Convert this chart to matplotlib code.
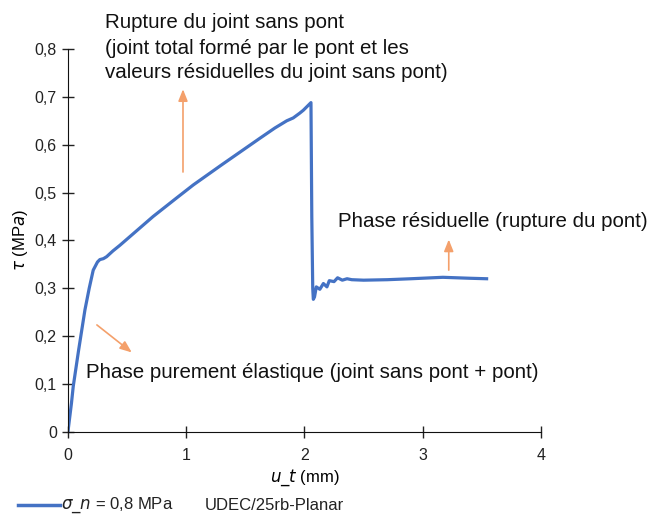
import numpy as np
import matplotlib
matplotlib.use("Agg")
from matplotlib import pyplot as plt

# shear displacement u_t (mm) and shear stress tau (MPa)
u_t = [0.0, 0.03, 0.045, 0.09, 0.144, 0.18, 0.214, 0.25, 0.27, 0.30, 0.327,
       0.38, 0.44, 0.58, 0.72, 0.92, 1.06, 1.30, 1.62, 1.75, 1.79, 1.85, 1.905,
       1.96, 1.99, 2.055, 2.062, 2.07, 2.075, 2.085, 2.10, 2.13, 2.16, 2.19,
       2.21, 2.25, 2.28, 2.32, 2.36, 2.40, 2.50, 2.70, 2.90, 3.17, 3.40, 3.54]
tau = [0.0, 0.06, 0.095, 0.17, 0.255, 0.30, 0.338, 0.355, 0.36, 0.362, 0.366,
       0.378, 0.39, 0.42, 0.45, 0.489, 0.516, 0.558, 0.613, 0.635, 0.641, 0.650, 0.656,
       0.666, 0.672, 0.688, 0.45, 0.30, 0.277, 0.282, 0.303, 0.298, 0.310, 0.303,
       0.316, 0.314, 0.322, 0.317, 0.320, 0.318, 0.317, 0.318, 0.32, 0.323, 0.321, 0.32]

xticks = [0, 1, 2, 3, 4]
yticks = [0, 0.1, 0.2, 0.3, 0.4, 0.5, 0.6, 0.7, 0.8]
ytick_labels = ["0", "0,1", "0,2", "0,3", "0,4", "0,5", "0,6", "0,7", "0,8"]

plt.rcParams['font.family'] = ['Liberation Sans', 'DejaVu Sans']
plt.rcParams['mathtext.fontset'] = 'dejavusans'

fig = plt.figure(figsize=(6.53, 5.16), dpi=100)
ax = fig.add_axes([0.104, 0.163, 0.7245, 0.742])

ax.plot(u_t, tau, color="#4472C4", lw=2.3, solid_joinstyle="round")

ax.set_xlim(0, 4)
ax.set_ylim(0, 0.8)
ax.set_xticks(xticks)
ax.set_xticklabels([str(v) for v in xticks])
ax.set_yticks(yticks)
ax.set_yticklabels(ytick_labels)
ax.tick_params(direction="inout", length=9, width=1, labelsize=11.5, colors="#222222")
ax.tick_params(axis="x", pad=7)
for s in ["top", "right"]:
    ax.spines[s].set_visible(False)
for s in ["left", "bottom"]:
    ax.spines[s].set_color("#111111")

ax.set_xlabel(r"$u\_t$ (mm)", fontsize=12, labelpad=3)
ax.set_ylabel(r"$\tau$ (MP$a$)", fontsize=12, labelpad=3)

# annotations
txt = dict(fontsize=14.8, color="#111111", clip_on=False, va="center", ha="left")
top_lines = ["Rupture du joint sans pont",
             "(joint total formé par le pont et les",
             "valeurs résiduelles du joint sans pont)"]
for line, y in zip(top_lines, [0.856, 0.802, 0.750]):
    ax.text(0.313, y, line, **txt)
ax.text(2.283, 0.4386, "Phase résiduelle (rupture du pont)", **txt)
ax.text(0.152, 0.125, "Phase purement élastique (joint sans pont + pont)", **txt)

arr = dict(arrowstyle="-|>,head_length=0.7,head_width=0.28", color="#F4A06B", lw=1.2, shrinkA=0, shrinkB=0)
ax.annotate("", xy=(0.973, 0.716), xytext=(0.973, 0.543), arrowprops=arr)
ax.annotate("", xy=(0.54, 0.166), xytext=(0.245, 0.2235), arrowprops=arr)
ax.annotate("", xy=(3.22, 0.402), xytext=(3.22, 0.338), arrowprops=arr)

# legend row under the chart
fig.lines.append(plt.Line2D([0.028, 0.092], [0.021, 0.021], color="#4472C4", lw=2.5, transform=fig.transFigure))
fig.text(0.094, 0.021, r"$\sigma\_n$ = 0,8 MPa", fontsize=12, va="center", ha="left", color="#222222")
fig.text(0.314, 0.021, "UDEC/25rb-Planar", fontsize=12, va="center", ha="left", color="#222222")

fig.savefig("out.png", dpi=100)
